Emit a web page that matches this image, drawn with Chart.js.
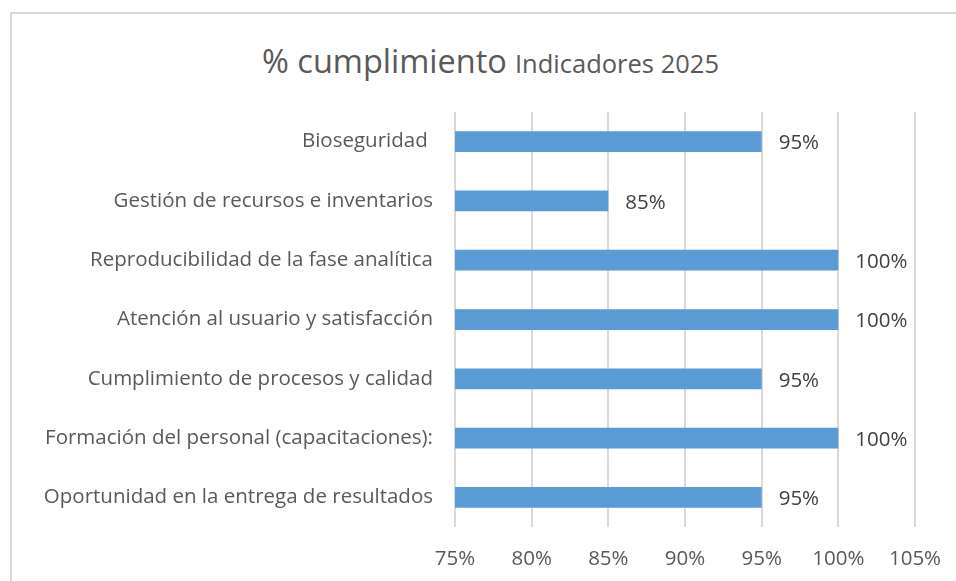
<!DOCTYPE html>
<html>
<head>
<meta charset="utf-8">
<script src="https://cdn.jsdelivr.net/npm/chart.js@4"></script>
<style>
  html, body { margin: 0; padding: 0; background: #fff; }
  #wrap { position: relative; width: 956px; height: 581px; overflow: hidden; }
  #frame { position: absolute; left: 10px; top: 12px; width: 960px; height: 600px;
           border-top: 2px solid #d9d9d9; border-left: 2px solid #d9d9d9; box-sizing: border-box; }
  #title { position: absolute; left: 25px; right: 0; top: 38px; text-align: center;
           font-family: 'Open Sans', sans-serif; color: #595959; white-space: nowrap; }
  #title .big { font-size: 32.5px; }
  #title .small { font-size: 25.5px; margin-left: 4px; }
  canvas { position: absolute; left: 0; top: 0; }
</style>
</head>
<body>
<div id="wrap">
  <div id="frame"></div>
  <div id="title"><span class="big">% cumplimiento</span> <span class="small">Indicadores 2025</span></div>
  <canvas id="chart" width="956" height="581"></canvas>
</div>
<script>
  var categories = [
    'Bioseguridad ',
    'Gestión de recursos e inventarios',
    'Reproducibilidad de la fase analítica',
    'Atención al usuario y satisfacción',
    'Cumplimiento de procesos y calidad',
    'Formación del personal (capacitaciones):',
    'Oportunidad en la entrega de resultados'
  ];
  var values = [95, 85, 100, 100, 95, 100, 95];
  var xMin = 75, xMax = 105, xStep = 5;

  var barColor = '#5B9BD5';
  var textColor = '#595959';

  // labels at the end of each bar
  var valueLabels = {
    id: 'valueLabels',
    afterDatasetsDraw: function(chart) {
      var ctx = chart.ctx;
      var meta = chart.getDatasetMeta(0);
      ctx.save();
      ctx.font = '20.5px "Open Sans", sans-serif';
      ctx.fillStyle = '#404040';
      ctx.textAlign = 'left';
      ctx.textBaseline = 'middle';
      meta.data.forEach(function(bar, i) {
        ctx.fillText(values[i] + '%', bar.x + 17, bar.y + 2);
      });
      ctx.restore();
    }
  };

  var ctx = document.getElementById('chart');
  var chart = new Chart(ctx, {
    type: 'bar',
    data: {
      labels: categories,
      datasets: [{
        data: values,
        backgroundColor: barColor,
        borderWidth: 0,
        barPercentage: 0.35,
        categoryPercentage: 1
      }]
    },
    options: {
      indexAxis: 'y',
      responsive: false,
      animation: false,
      layout: { padding: { left: 10, right: 41, top: 112, bottom: 0 } },
      plugins: {
        legend: { display: false },
        tooltip: { enabled: false }
      },
      scales: {
        x: {
          min: xMin,
          max: xMax,
          ticks: {
            stepSize: xStep,
            color: textColor,
            padding: 20,
            font: { family: 'Open Sans', size: 20.5 },
            callback: function(v) { return v + '%'; }
          },
          grid: { color: '#d9d9d9', lineWidth: 2, drawTicks: false },
          border: { display: false },
          afterFit: function(scale) {
            scale.height = 54;
            scale.paddingLeft = 0;
            scale.paddingRight = 0;
          }
        },
        y: {
          ticks: {
            color: textColor,
            padding: 22,
            font: { family: 'Open Sans', size: 20.5 }
          },
          grid: { display: false, drawTicks: false },
          border: { display: false },
          afterFit: function(scale) { scale.width = 445; }
        }
      }
    },
    plugins: [valueLabels]
  });
</script>
</body>
</html>
